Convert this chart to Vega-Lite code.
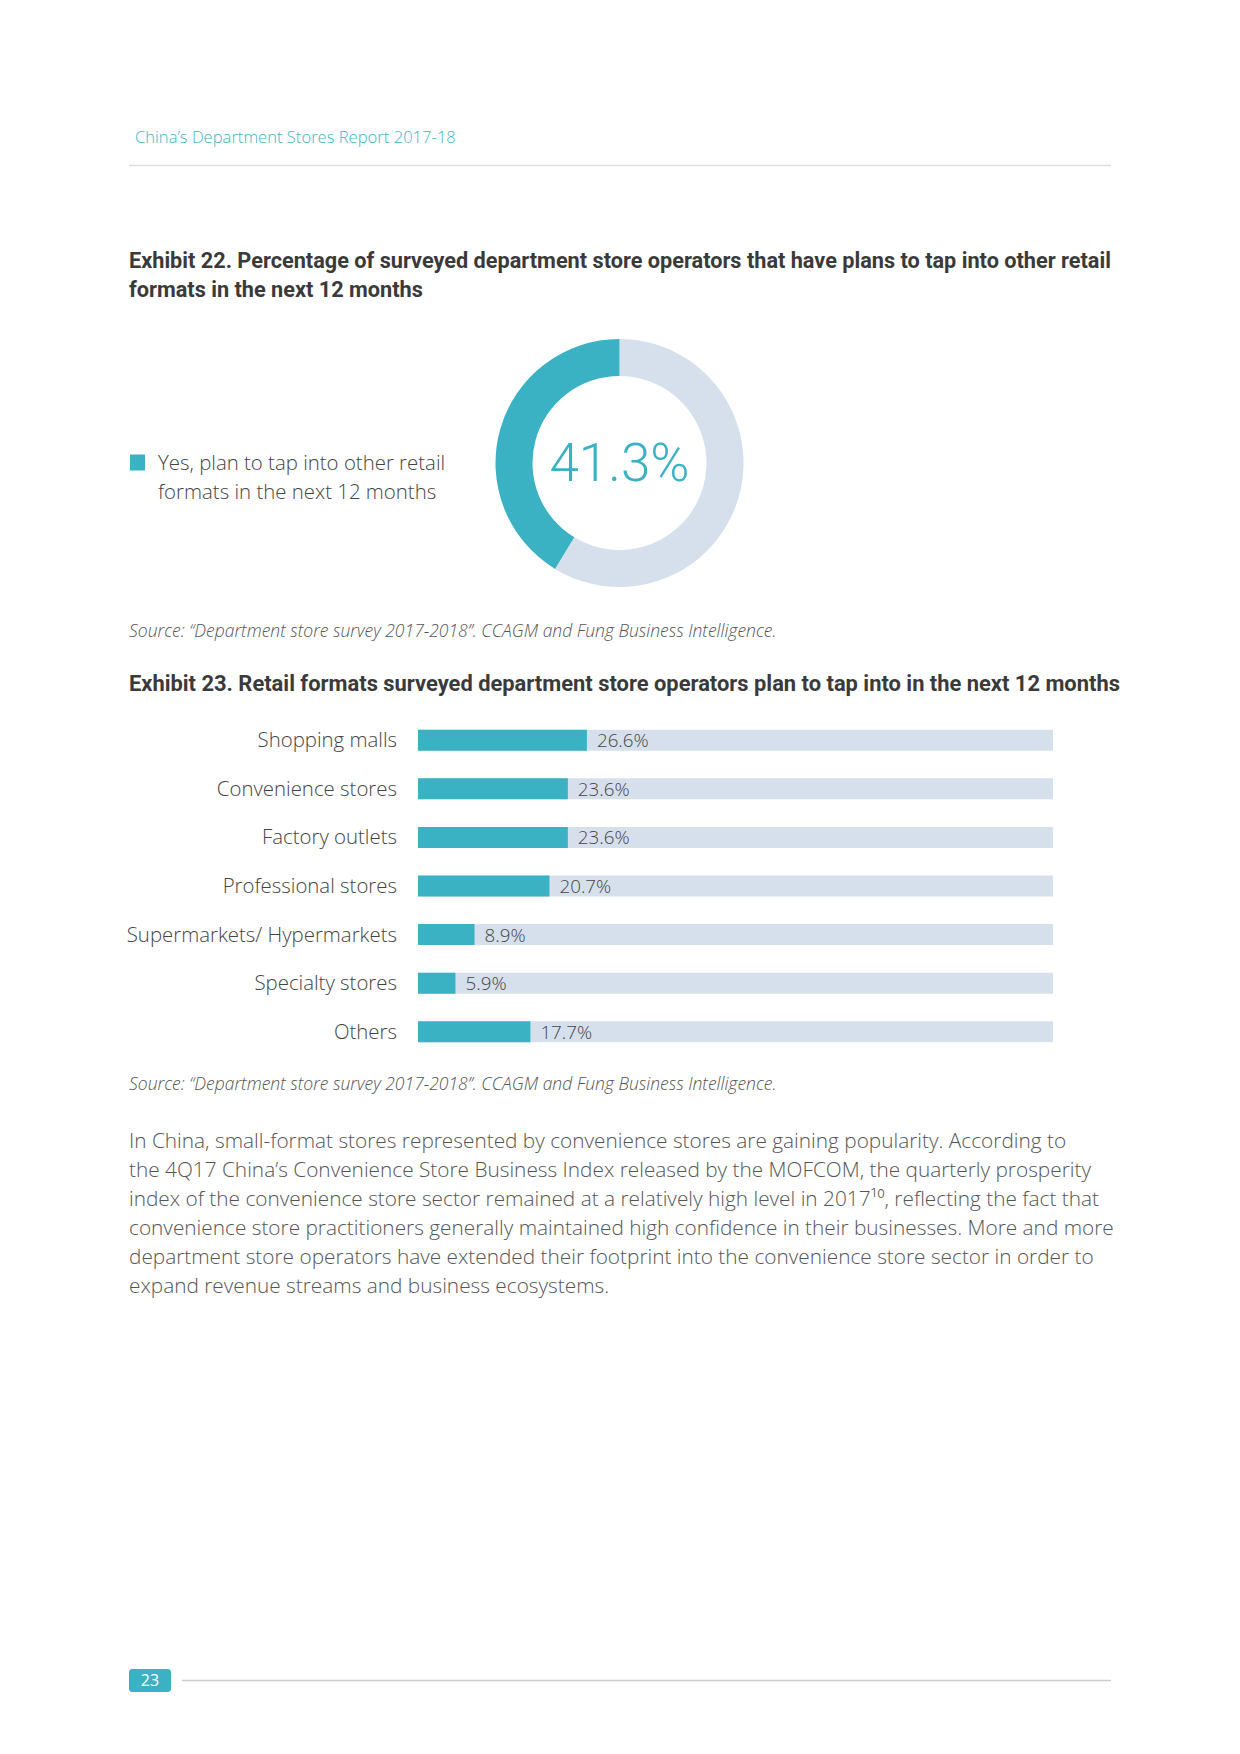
{
  "$schema": "https://vega.github.io/schema/vega-lite/v6.json",
  "width": 1240,
  "height": 1754,
  "padding": 0,
  "autosize": {"type": "fit", "contains": "padding"},
  "background": "white",
  "config": {"view": {"stroke": null}, "font": "Open Sans"},
  "datasets": {
    "formats": [
      {"format": "Shopping malls", "value": 0.266},
      {"format": "Convenience stores", "value": 0.236},
      {"format": "Factory outlets", "value": 0.236},
      {"format": "Professional stores", "value": 0.207},
      {"format": "Supermarkets/ Hypermarkets", "value": 0.089},
      {"format": "Specialty stores", "value": 0.059},
      {"format": "Others", "value": 0.177}
    ],
    "donut": [
      {"answer": "No", "value": 0.587},
      {"answer": "Yes", "value": 0.413}
    ],
    "page": [{}]
  },
  "layer": [
    {
      "data": {"name": "page"},
      "mark": {"type": "text", "text": "China’s Department Stores Report 2017-18", "align": "left", "baseline": "alphabetic", "fontSize": 16.6, "fontWeight": 300, "color": "#3FB3C6"},
      "encoding": {"x": {"value": 135}, "y": {"value": 143}}
    },
    {
      "data": {"name": "page"},
      "mark": {"type": "rule", "color": "#DDDDDD", "strokeWidth": 1.5},
      "encoding": {"x": {"value": 129}, "x2": {"value": 1111}, "y": {"value": 165.5}}
    },
    {
      "data": {"name": "page"},
      "mark": {"type": "text", "text": ["Exhibit 22. Percentage of surveyed department store operators that have plans to tap into other retail", "formats in the next 12 months"], "lineHeight": 29, "align": "left", "baseline": "alphabetic", "fontSize": 21.7, "fontWeight": "bold", "font": "Roboto", "color": "#3A3A3A"},
      "encoding": {"x": {"value": 129}, "y": {"value": 268}}
    },
    {
      "data": {"name": "page"},
      "mark": {"type": "rect", "color": "#3BB1C4"},
      "encoding": {"x": {"value": 130}, "x2": {"value": 145}, "y": {"value": 454.5}, "y2": {"value": 470.5}}
    },
    {
      "data": {"name": "page"},
      "mark": {"type": "text", "text": ["Yes, plan to tap into other retail", "formats in the next 12 months"], "lineHeight": 29, "align": "left", "baseline": "alphabetic", "fontSize": 20.4, "fontWeight": 300, "color": "#444444"},
      "encoding": {"x": {"value": 158}, "y": {"value": 470}}
    },
    {
      "data": {"name": "donut"},
      "mark": {"type": "arc", "outerRadius": 124, "innerRadius": 87},
      "encoding": {
        "x": {"value": 619.5},
        "y": {"value": 463},
        "theta": {"field": "value", "type": "quantitative", "stack": true},
        "color": {"field": "answer", "type": "nominal", "scale": {"domain": ["No", "Yes"], "range": ["#D6E0EC", "#3BB1C4"]}, "legend": null}
      }
    },
    {
      "data": {"name": "donut"},
      "transform": [{"filter": "datum.answer === 'Yes'"}],
      "mark": {"type": "text", "align": "center", "baseline": "alphabetic", "fontSize": 53, "fontWeight": 300, "font": "Roboto", "color": "#3BB1C4"},
      "encoding": {
        "x": {"value": 619.5},
        "y": {"value": 481},
        "text": {"field": "value", "type": "quantitative", "format": ".1%"}
      }
    },
    {
      "data": {"name": "page"},
      "mark": {"type": "text", "text": "Source: “Department store survey 2017-2018”. CCAGM and Fung Business Intelligence.", "align": "left", "baseline": "alphabetic", "fontSize": 17.5, "fontStyle": "italic", "fontWeight": 300, "color": "#555555"},
      "encoding": {"x": {"value": 129}, "y": {"value": 637}}
    },
    {
      "data": {"name": "page"},
      "mark": {"type": "text", "text": "Exhibit 23. Retail formats surveyed department store operators plan to tap into in the next 12 months", "align": "left", "baseline": "alphabetic", "fontSize": 21.9, "fontWeight": "bold", "font": "Roboto", "color": "#3A3A3A"},
      "encoding": {"x": {"value": 129}, "y": {"value": 691}}
    },
    {
      "data": {"name": "formats"},
      "mark": {"type": "bar", "color": "#D6E0EC"},
      "encoding": {
        "y": {"field": "format", "type": "nominal", "sort": null, "scale": {"range": [716, 1056], "paddingInner": 0.567, "paddingOuter": 0.2835}, "axis": null},
        "x": {"datum": 1, "type": "quantitative", "scale": {"domain": [0, 1], "range": [418, 1053]}, "axis": null}
      }
    },
    {
      "data": {"name": "formats"},
      "mark": {"type": "bar", "color": "#3BB1C4"},
      "encoding": {
        "y": {"field": "format", "type": "nominal", "sort": null},
        "x": {"field": "value", "type": "quantitative"}
      }
    },
    {
      "data": {"name": "formats"},
      "mark": {"type": "text", "align": "left", "baseline": "middle", "dx": 10, "dy": 1, "fontSize": 18.8, "fontWeight": 300, "color": "#444444"},
      "encoding": {
        "y": {"field": "format", "type": "nominal", "sort": null},
        "x": {"field": "value", "type": "quantitative"},
        "text": {"field": "value", "type": "quantitative", "format": ".1%"}
      }
    },
    {
      "data": {"name": "formats"},
      "mark": {"type": "text", "align": "right", "baseline": "middle", "dy": 1, "fontSize": 20.4, "fontWeight": 300, "color": "#444444"},
      "encoding": {
        "y": {"field": "format", "type": "nominal", "sort": null},
        "x": {"value": 397},
        "text": {"field": "format", "type": "nominal"}
      }
    },
    {
      "data": {"name": "page"},
      "mark": {"type": "text", "text": "Source: “Department store survey 2017-2018”. CCAGM and Fung Business Intelligence.", "align": "left", "baseline": "alphabetic", "fontSize": 17.5, "fontStyle": "italic", "fontWeight": 300, "color": "#555555"},
      "encoding": {"x": {"value": 129}, "y": {"value": 1090}}
    },
    {
      "data": {"name": "page"},
      "mark": {"type": "text", "text": ["In China, small-format stores represented by convenience stores are gaining popularity. According to", "the 4Q17 China’s Convenience Store Business Index released by the MOFCOM, the quarterly prosperity", "index of the convenience store sector remained at a relatively high level in 2017¹⁰, reflecting the fact that", "convenience store practitioners generally maintained high confidence in their businesses. More and more", "department store operators have extended their footprint into the convenience store sector in order to", "expand revenue streams and business ecosystems."], "lineHeight": 29, "align": "left", "baseline": "alphabetic", "fontSize": 20.8, "fontWeight": 300, "color": "#555555"},
      "encoding": {"x": {"value": 129}, "y": {"value": 1148}}
    },
    {
      "data": {"name": "page"},
      "mark": {"type": "rect", "color": "#3BB1C4", "cornerRadius": 3},
      "encoding": {"x": {"value": 129}, "x2": {"value": 171}, "y": {"value": 1669}, "y2": {"value": 1692}}
    },
    {
      "data": {"name": "page"},
      "mark": {"type": "text", "text": "23", "align": "center", "baseline": "middle", "fontSize": 16, "font": "Open Sans", "color": "white"},
      "encoding": {"x": {"value": 150}, "y": {"value": 1681}}
    },
    {
      "data": {"name": "page"},
      "mark": {"type": "rule", "color": "#CCCCCC", "strokeWidth": 1.5},
      "encoding": {"x": {"value": 182}, "x2": {"value": 1111}, "y": {"value": 1680.5}}
    }
  ]
}
